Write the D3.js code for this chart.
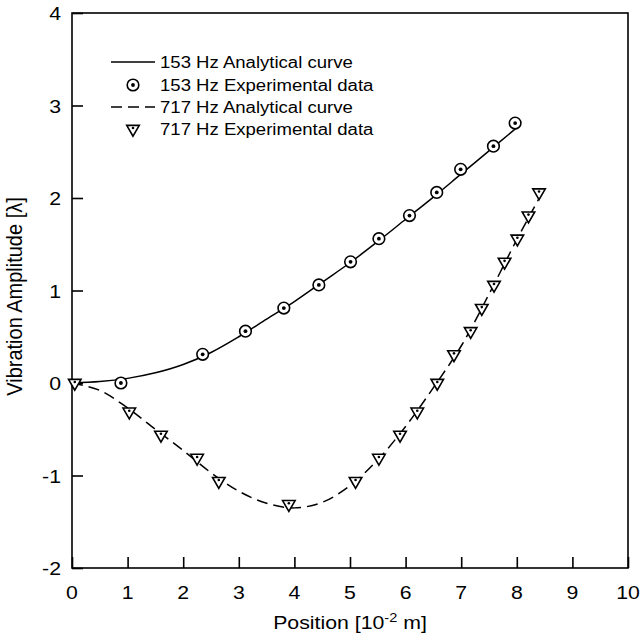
<!DOCTYPE html>
<html>
<head>
<meta charset="utf-8">
<script src="https://cdn.jsdelivr.net/npm/d3@7"></script>
<style>
  body { margin: 0; background: #fff; }
  text { font-family: Arial, "Liberation Sans", sans-serif; fill: #000; }
</style>
</head>
<body>
<div id="chart"></div>
<script>
// data
var xTicks = [0, 1, 2, 3, 4, 5, 6, 7, 8, 9, 10];
var yTicks = [-2, -1, 0, 1, 2, 3, 4];

// 153 Hz analytical curve
var curve153X = [0, 0.5, 1, 1.5, 2, 2.5, 3, 3.5, 4, 4.5, 5, 5.5, 6, 6.5, 7, 7.5, 8];
var curve153Y = [0, 0.015, 0.05, 0.11, 0.2, 0.33, 0.5, 0.69, 0.88, 1.09, 1.3, 1.53, 1.77, 2.01, 2.26, 2.51, 2.76];

// 153 Hz experimental data
var exp153X = [0.88, 2.35, 3.12, 3.81, 4.44, 5.01, 5.52, 6.07, 6.56, 6.99, 7.58, 7.97];
var exp153Y = [0, 0.31, 0.56, 0.81, 1.06, 1.31, 1.56, 1.81, 2.06, 2.31, 2.56, 2.81];

// 717 Hz analytical curve
var curve717X = [0, 0.5, 1, 1.5, 2, 2.5, 3, 3.5, 4, 4.5, 5, 5.5, 6, 6.5, 7, 7.5, 8, 8.45];
var curve717Y = [0, -0.08, -0.27, -0.5, -0.73, -0.97, -1.17, -1.3, -1.35, -1.29, -1.11, -0.83, -0.47, -0.05, 0.4, 0.96, 1.55, 2.05];

// 717 Hz experimental data
var exp717X = [0.05, 1.03, 1.6, 2.25, 2.64, 3.9, 5.1, 5.52, 5.9, 6.21, 6.57, 6.87, 7.17, 7.37, 7.59, 7.78, 8.01, 8.21, 8.4];
var exp717Y = [0, -0.31, -0.56, -0.81, -1.06, -1.31, -1.06, -0.81, -0.56, -0.31, 0, 0.31, 0.56, 0.81, 1.06, 1.31, 1.56, 1.81, 2.06];

var legendLabels = ["153 Hz Analytical curve", "153 Hz Experimental data", "717 Hz Analytical curve", "717 Hz Experimental data"];

// set the dimensions and margins of the graph
var svgWidth = 641;
var svgHeight = 639;

var margin = {
    top: 13,
    right: 13,
    bottom: 71,
    left: 72
};

var width = svgWidth - margin.left - margin.right;
var height = svgHeight - margin.top - margin.bottom;

// text in the picture is a bit wider than it is tall
var stretch = 1.12;

var svg = d3.select("#chart")
    .append("svg")
    .attr("width", svgWidth)
    .attr("height", svgHeight);

var chartGroup = svg.append("g")
    .attr("transform", `translate(${margin.left}, ${margin.top})`);

// scales
var xScale = d3.scaleLinear()
    .domain([0, 10])
    .range([0, width]);

var yScale = d3.scaleLinear()
    .domain([-2, 4])
    .range([height, 0]);

// frame
chartGroup.append("rect")
    .attr("x", 0)
    .attr("y", 0)
    .attr("width", width)
    .attr("height", height)
    .attr("fill", "none")
    .attr("stroke", "#000")
    .attr("stroke-width", 1.6);

// axes, ticks point inward
var xAxis = d3.axisBottom(xScale)
    .tickValues(xTicks)
    .tickSize(-11)
    .tickFormat("");
var yAxis = d3.axisLeft(yScale)
    .tickValues(yTicks)
    .tickSize(-11)
    .tickFormat("");

var xAxisG = chartGroup.append("g")
    .attr("transform", `translate(0, ${height})`)
    .call(xAxis);
var yAxisG = chartGroup.append("g")
    .call(yAxis);

[xAxisG, yAxisG].forEach(function(g) {
    g.select(".domain").remove();
    g.selectAll(".tick line").attr("stroke", "#000").attr("stroke-width", 1.6);
});

// tick labels
chartGroup.selectAll(".xlab")
    .data(xTicks)
    .enter()
    .append("text")
    .attr("class", "xlab")
    .attr("transform", d => `translate(${xScale(d)}, ${height + 31}) scale(${stretch},1)`)
    .attr("text-anchor", "middle")
    .attr("font-size", 19)
    .text(d => d);

chartGroup.selectAll(".ylab")
    .data(yTicks)
    .enter()
    .append("text")
    .attr("class", "ylab")
    .attr("transform", d => `translate(-11, ${yScale(d) + 7}) scale(${stretch},1)`)
    .attr("text-anchor", "end")
    .attr("font-size", 19)
    .text(d => d);

// axis titles
var xTitle = chartGroup.append("text")
    .attr("transform", `translate(${width / 2}, ${height + 61}) scale(${stretch},1)`)
    .attr("text-anchor", "middle")
    .attr("font-size", 19);
xTitle.append("tspan").text("Position [10");
xTitle.append("tspan").attr("font-size", 13).attr("dy", -7).text("-2");
xTitle.append("tspan").attr("dy", 7).text(" m]");

chartGroup.append("text")
    .attr("transform", `translate(-50, ${height / 2 + 6}) scale(${stretch},1) rotate(-90)`)
    .attr("text-anchor", "middle")
    .attr("font-size", 20)
    .text("Vibration Amplitude [\u03bb]");

// lines
var line = d3.line()
    .x(d => xScale(d[0]))
    .y(d => yScale(d[1]))
    .curve(d3.curveCatmullRom);

chartGroup.append("path")
    .datum(d3.zip(curve153X, curve153Y))
    .attr("d", line)
    .attr("fill", "none")
    .attr("stroke", "#000")
    .attr("stroke-width", 1.5);

chartGroup.append("path")
    .datum(d3.zip(curve717X, curve717Y))
    .attr("d", line)
    .attr("fill", "none")
    .attr("stroke", "#000")
    .attr("stroke-width", 1.5)
    .attr("stroke-dasharray", "11,6");

// markers
function drawCircle(g, cx, cy) {
    g.append("circle").attr("cx", cx).attr("cy", cy).attr("r", 5.8)
        .attr("fill", "#fff").attr("stroke", "#000").attr("stroke-width", 1.6);
    g.append("circle").attr("cx", cx).attr("cy", cy).attr("r", 1.9).attr("fill", "#000");
}

var triSym = d3.symbol().type(d3.symbolTriangle).size(68);
function drawTriangle(g, cx, cy) {
    g.append("path").attr("d", triSym)
        .attr("transform", `translate(${cx}, ${cy}) rotate(180)`)
        .attr("fill", "#fff").attr("stroke", "#000").attr("stroke-width", 1.6);
    g.append("circle").attr("cx", cx).attr("cy", cy - 1).attr("r", 1.3).attr("fill", "#000");
}

var pts153 = chartGroup.append("g");
d3.zip(exp153X, exp153Y).forEach(function(d) {
    drawCircle(pts153, xScale(d[0]), yScale(d[1]));
});

var pts717 = chartGroup.append("g");
d3.zip(exp717X, exp717Y).forEach(function(d) {
    drawTriangle(pts717, xScale(d[0]), yScale(d[1]));
});

// legend
var legend = svg.append("g");
var rowY = [62, 85, 107, 129];
var lx0 = 111, lx1 = 155;

legend.append("line").attr("x1", lx0).attr("x2", lx1).attr("y1", rowY[0]).attr("y2", rowY[0])
    .attr("stroke", "#000").attr("stroke-width", 1.5);
drawCircle(legend, (lx0 + lx1) / 2, rowY[1]);
legend.append("line").attr("x1", lx0).attr("x2", lx1).attr("y1", rowY[2]).attr("y2", rowY[2])
    .attr("stroke", "#000").attr("stroke-width", 1.5).attr("stroke-dasharray", "11,6");
drawTriangle(legend, (lx0 + lx1) / 2, rowY[3]);

legend.selectAll(".leg")
    .data(legendLabels)
    .enter()
    .append("text")
    .attr("class", "leg")
    .attr("transform", (d, i) => `translate(160, ${rowY[i] + 6}) scale(1.16,1)`)
    .attr("font-size", 16)
    .text(d => d);
</script>
</body>
</html>
